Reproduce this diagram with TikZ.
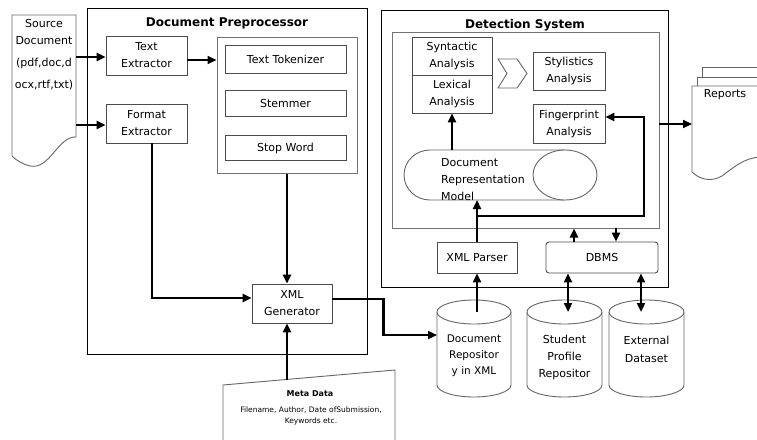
\documentclass[tikz,border=0pt]{standalone}
\usepackage{fontspec}
\setmainfont{DejaVu Sans}
\usetikzlibrary{arrows.meta}
\newcommand{\bodyfs}{\fontsize{11}{17}\selectfont}
\begin{document}
\begin{tikzpicture}[x=1pt,y=-1pt,
  box/.style={draw=black!70, line width=0.9pt, fill=white, align=center, font=\bodyfs, inner sep=0pt},
  obox/.style={draw=black, line width=0.8pt, inner sep=0pt},
  gbox/.style={draw=black!55, line width=1pt, inner sep=0pt},
  shp/.style={draw=black!60, line width=0.9pt, fill=white},
  arr/.style={line width=2.2pt, -{Triangle[length=9pt,width=8pt]}},
  darr/.style={line width=2.2pt, {Triangle[length=9pt,width=8pt]}-{Triangle[length=9pt,width=8pt]}},
  titlef/.style={font=\bfseries\fontsize{12}{14}\selectfont, inner sep=0pt},
  txt/.style={font=\bodyfs, align=center, inner sep=0pt}]
\useasboundingbox (0,0) rectangle (757,439);
\clip (0,0) rectangle (757,439);
\fill[white] (0,0) rectangle (757,439);

% ---------- Document Preprocessor ----------
\node[obox, minimum width=280pt, minimum height=346pt] (pp) at (227,181) {};
\node[titlef] (ppt) at (227,23) {Document Preprocessor};
\node[box, minimum width=81pt, minimum height=39pt] (te) at (146.5,55.5) {Text\\Extractor};
\node[box, minimum width=81pt, minimum height=39pt] (fe) at (146.5,123.5) {Format\\Extractor};
\node[gbox, minimum width=140pt, minimum height=136pt] (pin) at (287,105) {};
\node[box, minimum width=121pt, minimum height=28pt] (tt) at (285.5,59.5) {Text Tokenizer};
\node[box, minimum width=121pt, minimum height=26pt] (st) at (285.5,103.5) {Stemmer};
\node[box, minimum width=121pt, minimum height=25pt] (sw) at (285.5,148) {Stop Word};
\node[box, minimum width=80pt, minimum height=39pt] (xg) at (292,303.5) {XML\\Generator};

% ---------- Source document ----------
\draw[shp] (12,15) -- (76,15) -- (76,137)
  .. controls (58,136) and (50,170) .. (30,166)
  .. controls (22,164) and (16,160) .. (12,156) -- cycle;
\node[txt] (srcA) at (44,32) {Source\\Document};
\node[txt, font=\fontsize{11}{22}\selectfont] (srcB) at (44,74.5) {(pdf,doc,d\\ocx,rtf,txt)};
\coordinate (sd1) at (76,57);
\coordinate (sd2) at (76,125);

% ---------- Meta data ----------
\draw[shp] (223,385) -- (395,370) -- (395,445) -- (223,445) -- cycle;
\node[font=\bfseries\fontsize{8}{10}\selectfont, inner sep=0pt] (mdt) at (310,394) {Meta Data};
\node[txt, font=\fontsize{7.5}{11}\selectfont] (mdd) at (311,415.5) {Filename, Author, Date ofSubmission,\\Keywords etc.};
\coordinate (mdtop) at (287,379.5);

% ---------- Detection System ----------
\node[obox, minimum width=287pt, minimum height=277pt] (ds) at (524.5,148.5) {};
\node[titlef] (dst) at (525,25) {Detection System};
\node[gbox, minimum width=267pt, minimum height=196pt] (dsi) at (525.5,130) {};
\node[box, minimum width=80pt, minimum height=38pt] (syn) at (452,56) {Syntactic\\Analysis};
\node[box, minimum width=80pt, minimum height=38pt] (lex) at (452,94) {Lexical\\Analysis};
\draw[shp] (498,59) -- (517,59) -- (527,73.5) -- (517,88) -- (498,88) -- (507,73.5) -- cycle;
\node[box, minimum width=72pt, minimum height=38pt] (sty) at (569,71) {Stylistics\\Analysis};
\node[box, minimum width=72pt, minimum height=39pt] (fp) at (569,123.5) {Fingerprint\\Analysis};
% document representation model (horizontal cylinder)
\draw[shp] (565,150) -- (430,150)
  .. controls (415.6,150) and (404,161.2) .. (404,175)
  .. controls (404,188.8) and (415.6,200) .. (430,200) -- (565,200);
\draw[shp] (565,175) ellipse [x radius=32, y radius=25];
\node[txt, align=left, anchor=west] (drmt) at (441,180) {Document\\Representation\\Model};
\node[box, minimum width=80pt, minimum height=31pt] (xp) at (477,257.5) {XML Parser};
\node[box, rounded corners=3pt, minimum width=112pt, minimum height=31pt] (db) at (602,257.5) {DBMS};

% ---------- Reports ----------
\draw[draw=black!60, line width=0.9pt] (702,77) -- (702,67) -- (760,67);
\draw[draw=black!60, line width=0.9pt, fill=white] (697,86) -- (697,77) -- (760,77) -- (760,86);
\draw[shp] (692,86) -- (692,172)
  .. controls (700,180) and (712,182) .. (722,176)
  .. controls (735,166) and (745,158) .. (760,157) -- (760,86) -- cycle;
\node[txt] (rep) at (725,95) {Reports};

% ---------- Cylinders ----------
\draw[shp] (437,312) -- (437,385) .. controls (437,391.6) and (453.6,397) .. (474,397)
  .. controls (494.4,397) and (511,391.6) .. (511,385) -- (511,312);
\draw[shp] (474,312) ellipse [x radius=37, y radius=12];
\node[txt, font=\fontsize{10.5}{16}\selectfont] (c1t) at (474,356) {Document\\Repositor\\y in XML};
\draw[shp] (527,312) -- (527,385) .. controls (527,391.6) and (543.8,397) .. (564.5,397)
  .. controls (585.2,397) and (602,391.6) .. (602,385) -- (602,312);
\draw[shp] (564.5,312) ellipse [x radius=37.5, y radius=12];
\node[txt, font=\fontsize{11}{17}\selectfont] (c2t) at (564.5,357) {Student\\Profile\\Repositor};
\draw[shp] (609,312) -- (609,385) .. controls (609,391.6) and (625.8,397) .. (646.5,397)
  .. controls (667.2,397) and (684,391.6) .. (684,385) -- (684,312);
\draw[shp] (646.5,312) ellipse [x radius=37.5, y radius=12];
\node[txt, font=\fontsize{11}{18}\selectfont] (c3t) at (646.5,349) {External\\Dataset};

% ---------- coordinates ----------
\coordinate (teo) at (187,60);
\path (fe.south) ++(5.5,0) coordinate (fes);
\path (xg.west) ++(0,-5.5) coordinate (xgw);
\path (xg.east) ++(0,-4.5) coordinate (xge);
\coordinate (c1w) at (437,335);
\coordinate (c1c) at (477,312);
\coordinate (c2c) at (568,312);
\coordinate (c3c) at (641,312);
\coordinate (drmb) at (477,200);
\coordinate (drmtop) at (452,150);
\coordinate (fbk) at (477,216);
\path (fp.east) ++(0,-6.5) coordinate (fpe);
\coordinate (dbu) at (574,242);
\coordinate (dbd) at (616,228);
\coordinate (dsr) at (659,124);
\coordinate (repl) at (692,124);

% ---------- connectors ----------
\draw[arr] (sd1) -- (sd1 -| te.west);
\draw[arr] (sd2) -- (sd2 -| fe.west);
\draw[arr] (teo) -- (teo -| pin.west);
\draw[arr] (pin.south) -- (pin.south |- xg.north);
\draw[arr] (fes) |- (xgw);
\draw[arr] (mdtop) -- (mdtop |- xg.south);
\draw[arr] (xge) -- ++(51,0) |- (c1w);
\draw[arr] (c1c) -- (c1c |- xp.south);
\draw[arr] (xp.north) -- (drmb);
\draw[arr] (fbk) -- ++(167,0) |- (fpe);
\draw[arr] (drmtop) -- (drmtop |- lex.south);
\draw[arr] (dbu) -- (dbu |- dsi.south);
\draw[arr] (dbd) -- (dbd |- db.north);
\draw[darr] (c2c |- db.south) -- (c2c);
\draw[darr] (c3c |- db.south) -- (c3c);
\draw[arr] (dsr) -- (repl);
\end{tikzpicture}
\end{document}
